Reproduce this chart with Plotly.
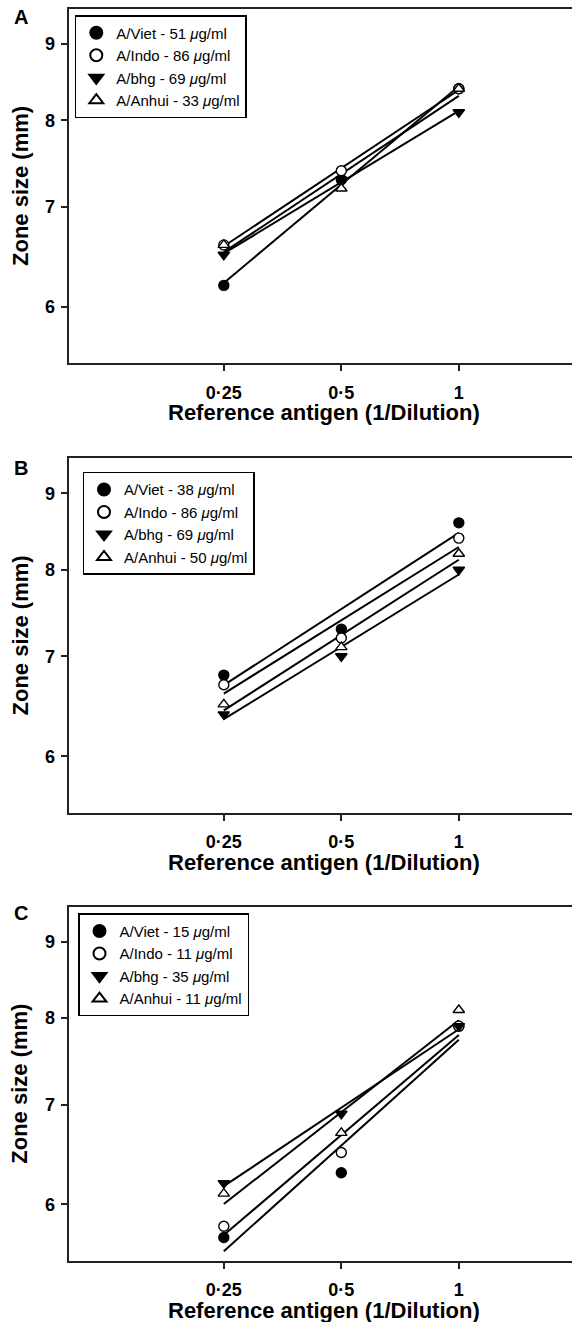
import numpy as np
import plotly.graph_objects as go

# ---------------- data ----------------
dilution = [0.25, 0.5, 1]
dilution_labels = ["0·25", "0·5", "1"]
y_ticks = [6, 7, 8, 9]
strains = ["A/Viet", "A/Indo", "A/bhg", "A/Anhui"]

# Panel A
conc_A = [51, 86, 69, 33]
viet_A = [6.2, 7.3, 8.4]
indo_A = [6.6, 7.4, 8.4]
bhg_A = [6.5, 7.3, 8.1]
anhui_A = [6.6, 7.2, 8.4]

# Panel B
conc_B = [38, 86, 69, 50]
viet_B = [6.8, 7.3, 8.6]
indo_B = [6.7, 7.2, 8.4]
bhg_B = [6.4, 7.0, 8.0]
anhui_B = [6.5, 7.1, 8.2]

# Panel C
conc_C = [15, 11, 35, 11]
viet_C = [5.7, 6.3, 7.9]
indo_C = [5.8, 6.5, 7.9]
bhg_C = [6.2, 6.9, 7.9]
anhui_C = [6.1, 6.7, 8.1]

panel_letters = ["A", "B", "C"]
panels = [
    (conc_A, [viet_A, indo_A, bhg_A, anhui_A]),
    (conc_B, [viet_B, indo_B, bhg_B, anhui_B]),
    (conc_C, [viet_C, indo_C, bhg_C, anhui_C]),
]

# ---------------- style ----------------
W, H = 572, 1322
FONT = "Liberation Sans, Arial, Helvetica, sans-serif"
symbols = ["circle", "circle", "triangle-down", "triangle-up"]
fills = ["black", "white", "black", "white"]

# pixel geometry of each plot area (top, bottom)
plot_tb = [(9, 363), (458.3, 812.7), (906.7, 1260.7)]
plot_left = 68.5
legend_pos = [(74.8, 15), (82.5, 471.7), (78.0, 913.3)]
label_pos = [(20.7, 17), (21, 468), (21, 913)]

fig = go.Figure()
layout = dict(
    width=W, height=H,
    margin=dict(l=0, r=0, t=0, b=0),
    paper_bgcolor="white", plot_bgcolor="white",
    showlegend=True,
    font=dict(family=FONT, color="black"),
    annotations=[],
)

lx = np.log10(np.array(dilution, dtype=float))
for p, (conc, series) in enumerate(panels):
    sfx = "" if p == 0 else str(p + 1)
    xa, ya = "x" + sfx, "y" + sfx
    leg = "legend" + sfx
    # regression lines (log-log, as displayed)
    for vals in series:
        ly = np.log10(np.array(vals, dtype=float))
        slope, icpt = np.polyfit(lx, ly, 1)
        xs = np.array([min(dilution), max(dilution)], dtype=float)
        ys = 10 ** (icpt + slope * np.log10(xs))
        fig.add_trace(go.Scatter(
            x=xs, y=ys, mode="lines", xaxis=xa, yaxis=ya,
            line=dict(color="black", width=2),
            showlegend=False, hoverinfo="skip"))
    # markers
    for i, vals in enumerate(series):
        fig.add_trace(go.Scatter(
            x=dilution, y=vals, mode="markers", xaxis=xa, yaxis=ya,
            name=f"{strains[i]} - {conc[i]} <i>μ</i>g/ml",
            legend=leg,
            marker=dict(symbol=symbols[i], size=10, color=fills[i],
                        line=dict(color="black", width=1.4)),
        ))
    top, bot = plot_tb[p]
    ydom = [1 - bot / H, 1 - top / H]
    layout["xaxis" + sfx] = dict(
        type="log", range=[-1.0, 0.29], domain=[plot_left / W, 1],
        anchor=ya, tickvals=dilution, ticktext=dilution_labels,
        ticks="outside", ticklen=6, tickwidth=1.6, tickcolor="#222",
        showline=True, linecolor="#222", linewidth=1.8, mirror=True,
        showgrid=False, zeroline=False,
        tickfont=dict(family=FONT, size=18, color="black", weight="bold"),
        ticklabelstandoff=6,
    )
    layout["yaxis" + sfx] = dict(
        type="log", range=[np.log10(5.5), np.log10(9.5)], domain=ydom,
        anchor=xa, tickvals=y_ticks, ticktext=[str(t) for t in y_ticks],
        ticks="outside", ticklen=6, tickwidth=1.6, tickcolor="#222",
        showline=True, linecolor="#222", linewidth=1.8, mirror=False,
        showgrid=False, zeroline=False,
        tickfont=dict(family=FONT, size=18, color="black", weight="bold"),
        ticklabelstandoff=2,
    )
    lpx, lpy = legend_pos[p]
    layout[leg] = dict(
        x=lpx / W, y=1 - lpy / H, xanchor="left", yanchor="top",
        bgcolor="white", bordercolor="black", borderwidth=1.5,
        font=dict(family=FONT, size=15, color="black"),
        tracegroupgap=0, itemsizing="constant",
    )
    # axis titles
    layout["annotations"].append(dict(
        text="<b>Reference antigen (1/Dilution)</b>", xref="paper", yref="paper",
        x=324 / W, y=1 - (bot + 50) / H, xanchor="center", yanchor="middle",
        showarrow=False, font=dict(family=FONT, size=22, color="black")))
    layout["annotations"].append(dict(
        text="<b>Zone size (mm)</b>", xref="paper", yref="paper",
        x=20 / W, y=1 - ((top + bot) / 2) / H, xanchor="center", yanchor="middle",
        textangle=-90, showarrow=False,
        font=dict(family=FONT, size=22, color="black")))
    # panel letter
    ax_, ay_ = label_pos[p]
    layout["annotations"].append(dict(
        text=f"<b>{panel_letters[p]}</b>", xref="paper", yref="paper",
        x=ax_ / W, y=1 - ay_ / H, xanchor="center", yanchor="middle",
        showarrow=False, font=dict(family=FONT, size=20, color="black")))

fig.update_layout(**layout)
fig.write_html(
    "out.html",
    config={"displayModeBar": False},
    post_script="document.body.style.margin='0';document.body.style.overflow='hidden';",
)
